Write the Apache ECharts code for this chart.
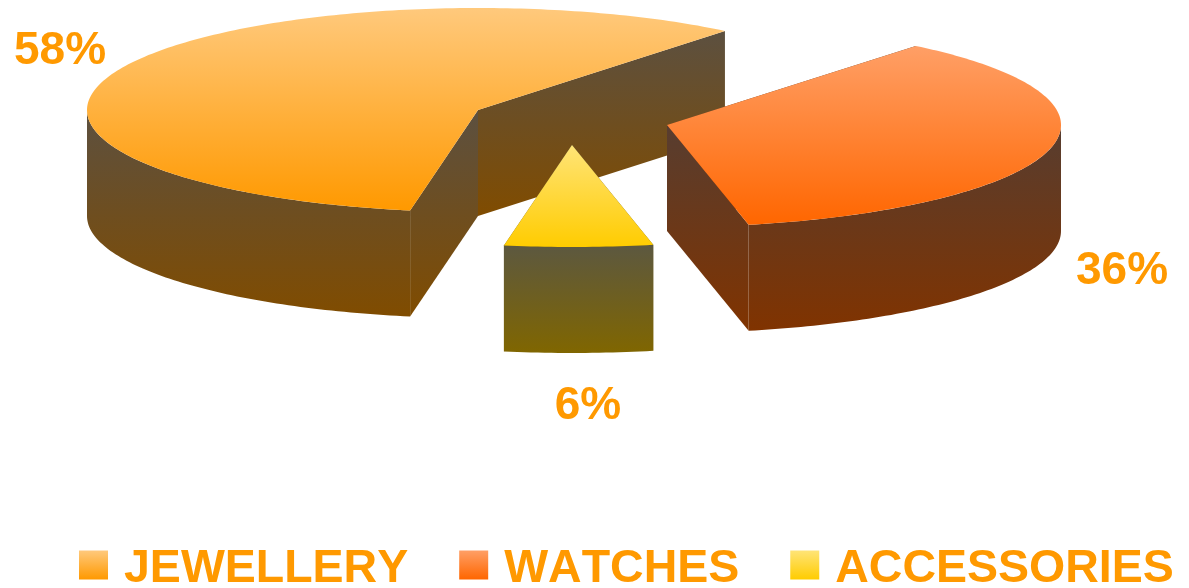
<!DOCTYPE html>
<html>
<head>
<meta charset="utf-8">
<style>html,body{margin:0;padding:0;background:#fff}#c{width:1189px;height:588px}</style>
<script src="https://cdn.jsdelivr.net/npm/echarts@6/dist/echarts.min.js"></script>
</head>
<body>
<div id="c"></div>
<script>
const categories = ['JEWELLERY', 'WATCHES', 'ACCESSORIES'];
const values = [58.1, 35.8, 6.1];

// The reference text is set without pair kerning.
['fillText', 'measureText'].forEach(function (m) {
  const orig = CanvasRenderingContext2D.prototype[m];
  CanvasRenderingContext2D.prototype[m] = function () {
    this.fontKerning = 'none';
    return orig.apply(this, arguments);
  };
});

const total = values.reduce((a, b) => a + b, 0);
const START = 260, DEPTH = 106;
const FONT = '"Liberation Sans", Arial, sans-serif';
const ORANGE = '#FF9900';

const layout = [
  { cx: 478, cy: 110, rx: 391, ry: 102, lx: 60, ly: 51 },
  { cx: 667, cy: 125, rx: 394, ry: 102, lx: 1122, ly: 271 },
  { cx: 572, cy: 145, rx: 392, ry: 102, lx: 588, ly: 406 }
];
const topColors = [['#FFC97C', '#FF9900'], ['#FF9F66', '#FF6600'], ['#FFE477', '#FFCC00']];
const sideColors = [['#5C5040', '#804C00'], ['#573D30', '#803300'], ['#5C5840', '#806600']];

function grad(c) {
  return { type: 'linear', x: 0, y: 0, x2: 0, y2: 1,
    colorStops: [{ offset: 0, color: c[0] }, { offset: 1, color: c[1] }] };
}

function arc(L, from, to) {
  const pts = [], n = Math.max(2, Math.ceil(Math.abs(to - from)));
  for (let i = 0; i <= n; i++) {
    const t = (from + (to - from) * i / n) * Math.PI / 180;
    pts.push([L.cx + L.rx * Math.cos(t), L.cy - L.ry * Math.sin(t)]);
  }
  return pts;
}

function poly(points, color) {
  return { type: 'polygon', shape: { points }, style: { fill: grad(color) } };
}

function wall(p, q, color) {
  return poly([p, q, [q[0], q[1] + DEPTH], [p[0], p[1] + DEPTH]], color);
}

function renderSlice(index) {
  return function (params, api) {
    const value = api.value(0), before = api.value(1);
    const L = layout[index];
    const a0 = START - before / total * 360;
    const a1 = a0 - value / total * 360;
    const apex = [L.cx, L.cy];
    const top = arc(L, a0, a1);
    const children = [
      wall(apex, top[0], sideColors[index]),
      wall(apex, top[top.length - 1], sideColors[index])
    ];
    // front-facing part of the rim: angles whose sine is negative
    const fa = a0 > 180 ? a0 : Math.min(a0, 0);
    const fb = a0 > 180 ? Math.max(a1, 180) : Math.max(a1, -180);
    if (fa > fb) {
      const rim = arc(L, fa, fb);
      const rimLow = rim.slice().reverse().map(p => [p[0], p[1] + DEPTH]);
      children.push(poly(rim.concat(rimLow), sideColors[index]));
    }
    children.push(poly([apex].concat(top), topColors[index]));
    children.push({
      type: 'text',
      style: {
        text: Math.round(value / total * 100) + '%',
        x: L.lx, y: L.ly, align: 'center', verticalAlign: 'middle',
        fill: ORANGE, font: 'bold 46px ' + FONT
      }
    });
    return { type: 'group', children };
  };
}

let running = 0;
const series = categories.map((name, i) => {
  const s = {
    name, type: 'custom', coordinateSystem: 'none',
    renderItem: renderSlice(i),
    itemStyle: { color: grad(topColors[i]) },
    data: [[values[i], running]],
    silent: true, animation: false
  };
  running += values[i];
  return s;
});

const chart = echarts.init(document.getElementById('c'), null, { renderer: 'canvas' });
chart.setOption({
  backgroundColor: '#fff',
  animation: false,
  legend: {
    left: 79, top: 546, orient: 'horizontal', icon: 'rect',
    itemWidth: 29, itemHeight: 29, itemGap: 51, padding: 0,
    selectedMode: false,
    formatter: '{t|{name}}',
    data: categories.map((name, i) => ({ name, icon: 'rect', itemStyle: { color: grad(topColors[i]) } })),
    textStyle: {
      color: ORANGE, fontFamily: FONT, fontWeight: 'bold', fontSize: 46.5,
      rich: { t: { color: ORANGE, fontFamily: FONT, fontWeight: 'bold', fontSize: 46.5, padding: [9, 0, 0, 11] } }
    }
  },
  series
});
</script>
</body>
</html>
